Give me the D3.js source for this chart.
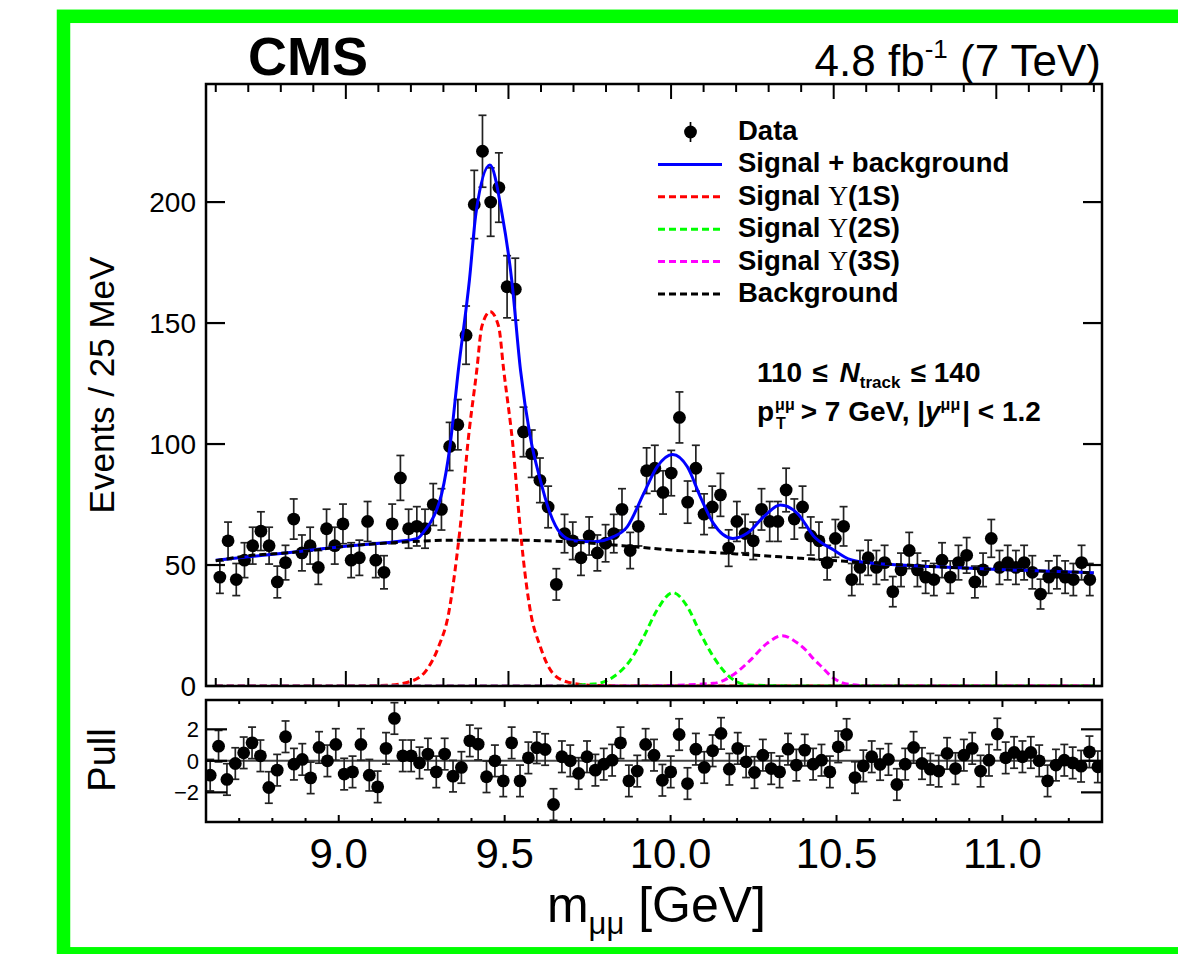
<!DOCTYPE html>
<html><head><meta charset="utf-8">
<script src="https://cdn.jsdelivr.net/npm/d3@7"></script>
<style>
body{margin:0;background:#fff}
svg{display:block}
text{font-family:"Liberation Sans",Arial,Helvetica,sans-serif;fill:#000}
</style>
</head><body>
<svg id="c" width="1178" height="954"></svg>
<script>
// ---- binning (107 bins over the fitted range) ----
const binLo = 8.6, binHi = 11.3, nBins = 107;

// ---- data: events per bin ----
const counts = [45,60,44,52,58,64,58,43,51,69, 55,58,49,65,58,67,52,53,68,52,
  47,67,86,65,66,65,75,73,99,108, 145,199,221,200,206,165,164,105,96,85,
  74,42,63,60,53,62,55,59,63,73, 56,66,89,90,80,88,111,76,90,71,
  74,79,57,68,63,60,73,68,68,81, 69,74,62,60,51,61,66,44,49,53,
  49,51,39,48,56,48,45,44,52,45, 51,54,43,48,61,49,51,49,51,47,
  38,45,47,45,44,51,44];

// ---- pulls per bin ----
const pulls = [-0.91,0.93,-1.18,-0.17,0.51,1.14,0.32,-1.69,-0.59,1.53,
  -0.21,0.09,-1.08,0.85,0.00,1.04,-0.84,-0.70,1.04,-0.91,
  -1.65,0.79,2.69,0.32,0.32,-0.13,0.43,-0.70,0.43,-0.97,
  -0.42,1.27,1.06,-1.01,0.00,-1.27,1.14,-1.27,0.19,0.83,
  0.72,-2.77,0.26,0.00,-0.80,0.26,-0.59,-0.21,0.04,1.14,
  -1.27,-0.65,1.04,0.36,
  -1.23,-0.70,1.67,-1.44,0.74,-0.42,0.64,1.74,-0.53,0.79,
  -0.06,-0.74,0.36,-0.49,-0.70,0.74,-0.27,0.68,-0.21,0.04,
  -0.70,0.89,1.67,-1.06,-0.32,0.26,-0.23,0.09,-1.50,-0.21,
  0.85,-0.17,-0.53,-0.65,0.47,-0.49,0.36,0.79,-0.65,0.04,
  1.70,0.19,0.53,0.26,0.53,0.00,-1.27,-0.27,0.04,-0.13,
  -0.34,0.57,-0.38];

// ---- fit curves ----
const bgMass = [8.6,8.7,8.86,9.01,9.17,9.3,9.5,9.68,9.85,10.0,10.2,10.4,10.6,10.8,11.0,11.3];
const bgVal  = [51.8,53.8,55.5,57.9,59.4,60.2,60.3,59.6,58.0,56.2,54.6,52.8,51.0,49.4,48.2,46.8];

const totMass = [8.6,8.8,9.0,9.15,9.22,9.244,9.27,9.295,9.32,9.346,9.38,9.40,9.443,9.48,9.51,9.537,
  9.567,9.598,9.628,9.66,9.70,9.762,9.823,9.865,9.916,9.957,10.005,10.05,10.09,10.13,10.19,
  10.234,10.285,10.336,10.388,10.44,10.50,10.55,10.60,10.8,11.0,11.3];
const totVal = [52,54.8,57.8,59.6,61,64.5,70,79.6,98.9,130.6,167.8,195.3,215.3,195.3,167.8,130.6,
  103,85.1,71.4,63.1,60.0,59.6,61.7,65.8,79.6,90.6,95.7,90.6,78.2,67.2,61.0,
  63.1,70.0,74.8,71.4,61.7,56.2,52.3,51.0,49.4,48.2,46.8];

const s1Mass = [8.6,9.0,9.126,9.197,9.248,9.285,9.316,9.341,9.357,9.372,9.403,9.418,9.444,9.47,9.485,
  9.516,9.531,9.545,9.566,9.598,9.635,9.685,9.755,9.85,11.3];
const s1Val  = [0,0,0.3,1.8,6.6,16.2,30.0,53.4,72.7,96.1,131,148.5,154.7,148.5,131,
  96.1,72.7,53.4,32,16.2,5.5,1.5,0.3,0,0];

const s2Mass = [8.6,9.6,9.762,9.823,9.875,9.916,9.957,10.005,10.05,10.09,10.13,10.18,10.24,10.4,11.3];
const s2Val  = [0,0,0.8,3.8,10.7,20.4,31.4,38.6,32.8,21.8,12.1,3.8,0.4,0,0];

const s3Mass = [8.6,9.9,10.13,10.19,10.244,10.295,10.342,10.39,10.414,10.44,10.455,10.50,10.55,10.62,11.3];
const s3Val  = [0,0,1.1,4.5,10.7,17.6,20.8,17.6,14.9,10.9,9.0,3.2,0.6,0,0];

const mainYTicks = [0,50,100,150,200];
const xMajorTicks = [9.0,9.5,10.0,10.5,11.0];
const xTickLabels = ["9.0","9.5","10.0","10.5","11.0"];
const pullTicks = [-2,0,2];
const pullTickLabels = ["\u22122","0","2"];

const legendItems = [
  {label:"Data", type:"data"},
  {label:"Signal + background", type:"line", color:"#0000ff", dash:null},
  {label:"Signal ", ups:"\u03A5", tail:"(1S)", type:"line", color:"#ff0000", dash:"7,4"},
  {label:"Signal ", ups:"\u03A5", tail:"(2S)", type:"line", color:"#00ff00", dash:"7,4"},
  {label:"Signal ", ups:"\u03A5", tail:"(3S)", type:"line", color:"#ff00ff", dash:"7,4"},
  {label:"Background", type:"line", color:"#000000", dash:"7,4"}
];

// ---- layout ----
const svg = d3.select("#c");
const M = {l:206, r:1102, t:84, b:686};
const P = {l:206, r:1102, t:700, b:822};

const x = d3.scaleLinear().domain([8.57, 11.325]).range([M.l, M.r]);
const y = d3.scaleLinear().domain([0, 248.8]).range([M.b, M.t]);
const xp = d3.scaleLinear().domain([8.6, 11.3]).range([P.l, P.r]);
const yp = d3.scaleLinear().domain([-3.88, 3.86]).range([P.b, P.t]);

const binW = (binHi - binLo) / nBins;
const centers = d3.range(nBins).map(i => binLo + (i + 0.5) * binW);
const data = centers.map((m, i) => ({m, n: counts[i], e: Math.sqrt(counts[i]), p: pulls[i]}));

// green outer frame
svg.append("rect").attr("x",63.5).attr("y",16.3).attr("width",1200).attr("height",937.5)
  .attr("fill","none").attr("stroke","#00ff00").attr("stroke-width",13.5);

// clip paths
const defs = svg.append("defs");
defs.append("clipPath").attr("id","clipM").append("rect")
  .attr("x",M.l).attr("y",M.t).attr("width",M.r-M.l).attr("height",M.b-M.t);
defs.append("clipPath").attr("id","clipP").append("rect")
  .attr("x",P.l).attr("y",P.t).attr("width",P.r-P.l).attr("height",P.b-P.t);

// ---------------- main panel ----------------
const gM = svg.append("g");
const gD = gM.append("g").attr("clip-path","url(#clipM)");
const cap = 4;
gD.selectAll("line.eb").data(data).join("line").attr("class","eb")
  .attr("x1",d=>x(d.m)).attr("x2",d=>x(d.m))
  .attr("y1",d=>y(d.n+d.e)).attr("y2",d=>y(d.n-d.e))
  .attr("stroke","#222").attr("stroke-width",1.7);
gD.selectAll("line.ct").data(data).join("line").attr("class","ct")
  .attr("x1",d=>x(d.m)-cap).attr("x2",d=>x(d.m)+cap)
  .attr("y1",d=>y(d.n+d.e)).attr("y2",d=>y(d.n+d.e))
  .attr("stroke","#222").attr("stroke-width",1.7);
gD.selectAll("line.cb").data(data).join("line").attr("class","cb")
  .attr("x1",d=>x(d.m)-cap).attr("x2",d=>x(d.m)+cap)
  .attr("y1",d=>y(d.n-d.e)).attr("y2",d=>y(d.n-d.e))
  .attr("stroke","#222").attr("stroke-width",1.7);
gD.selectAll("circle").data(data).join("circle")
  .attr("cx",d=>x(d.m)).attr("cy",d=>y(d.n)).attr("r",6.4).attr("fill","#000");

// curves
const gC = gM.append("g").attr("clip-path","url(#clipM)");
const lineGen = d3.line().x(d=>x(d[0])).y(d=>y(d[1])).curve(d3.curveMonotoneX);
function curve(ms, vs, color, dash, w){
  const pts = ms.map((m,i)=>[m, vs[i]]);
  const p = gC.append("path").attr("d", lineGen(pts)).attr("fill","none")
    .attr("stroke", color).attr("stroke-width", w);
  if (dash) p.attr("stroke-dasharray", dash);
}
curve(totMass, totVal, "#0000ff", null, 3);
curve(s1Mass, s1Val, "#ff0000", "7,4", 3);
curve(s2Mass, s2Val, "#00ff00", "7,4", 3);
curve(s3Mass, s3Val, "#ff00ff", "7,4", 3);
curve(bgMass, bgVal, "#000000", "7,4", 3);

// frame
gM.append("rect").attr("x",M.l).attr("y",M.t).attr("width",M.r-M.l).attr("height",M.b-M.t)
  .attr("fill","none").attr("stroke","#000").attr("stroke-width",2.5);

// x ticks (main)
d3.range(86, 114).map(k => k/10).forEach(t => {
  const major = Math.abs(t*2 - Math.round(t*2)) < 1e-6;
  const L = major ? 15 : 8;
  gM.append("line").attr("x1",x(t)).attr("x2",x(t)).attr("y1",M.b).attr("y2",M.b-L)
    .attr("stroke","#000").attr("stroke-width",2);
  gM.append("line").attr("x1",x(t)).attr("x2",x(t)).attr("y1",M.t).attr("y2",M.t+L)
    .attr("stroke","#000").attr("stroke-width",2);
});
// y ticks (main)
mainYTicks.forEach(t => {
  gM.append("line").attr("x1",M.l).attr("x2",M.l+19).attr("y1",y(t)).attr("y2",y(t))
    .attr("stroke","#000").attr("stroke-width",2.2);
  gM.append("line").attr("x1",M.r).attr("x2",M.r-19).attr("y1",y(t)).attr("y2",y(t))
    .attr("stroke","#000").attr("stroke-width",2.2);
  gM.append("text").attr("x",196).attr("y",y(t)).attr("dy","0.36em")
    .attr("text-anchor","end").attr("font-size",28).text(t);
});

// y title
svg.append("text").attr("transform","translate(114,385) rotate(-90)")
  .attr("text-anchor","middle").attr("font-size",35).text("Events / 25 MeV");

// ---------------- pull panel ----------------
const gP = svg.append("g");
const gPD = gP.append("g").attr("clip-path","url(#clipP)");
gPD.append("line").attr("x1",P.l).attr("x2",P.r).attr("y1",yp(0)).attr("y2",yp(0))
  .attr("stroke","#444").attr("stroke-width",2);
gPD.selectAll("line.eb").data(data).join("line").attr("class","eb")
  .attr("x1",d=>xp(d.m)).attr("x2",d=>xp(d.m))
  .attr("y1",d=>yp(d.p+1)).attr("y2",d=>yp(d.p-1))
  .attr("stroke","#222").attr("stroke-width",1.7);
gPD.selectAll("line.ct").data(data).join("line").attr("class","ct")
  .attr("x1",d=>xp(d.m)-cap).attr("x2",d=>xp(d.m)+cap)
  .attr("y1",d=>yp(d.p+1)).attr("y2",d=>yp(d.p+1))
  .attr("stroke","#222").attr("stroke-width",1.7);
gPD.selectAll("line.cb").data(data).join("line").attr("class","cb")
  .attr("x1",d=>xp(d.m)-cap).attr("x2",d=>xp(d.m)+cap)
  .attr("y1",d=>yp(d.p-1)).attr("y2",d=>yp(d.p-1))
  .attr("stroke","#222").attr("stroke-width",1.7);
gPD.selectAll("circle").data(data).join("circle")
  .attr("cx",d=>xp(d.m)).attr("cy",d=>yp(d.p)).attr("r",6.4).attr("fill","#000");

gP.append("rect").attr("x",P.l).attr("y",P.t).attr("width",P.r-P.l).attr("height",P.b-P.t)
  .attr("fill","none").attr("stroke","#000").attr("stroke-width",2.5);

d3.range(87, 114).map(k=>k/10).forEach(t => {
  const major = Math.abs(t*2 - Math.round(t*2)) < 1e-6;
  const L = major ? 7 : 4;
  gP.append("line").attr("x1",xp(t)).attr("x2",xp(t)).attr("y1",P.b).attr("y2",P.b-L)
    .attr("stroke","#000").attr("stroke-width",2);
  gP.append("line").attr("x1",xp(t)).attr("x2",xp(t)).attr("y1",P.t).attr("y2",P.t+L)
    .attr("stroke","#000").attr("stroke-width",2);
});
pullTicks.forEach((t,i) => {
  gP.append("line").attr("x1",P.l).attr("x2",P.l+21).attr("y1",yp(t)).attr("y2",yp(t))
    .attr("stroke","#000").attr("stroke-width",2.2);
  gP.append("line").attr("x1",P.r).attr("x2",P.r-21).attr("y1",yp(t)).attr("y2",yp(t))
    .attr("stroke","#000").attr("stroke-width",2.2);
  gP.append("text").attr("x",199).attr("y",yp(t)).attr("dy","0.36em")
    .attr("text-anchor","end").attr("font-size",22).text(pullTickLabels[i]);
});
svg.append("text").attr("transform","translate(115,760) rotate(-90)")
  .attr("text-anchor","middle").attr("font-size",38).text("Pull");

// x tick labels
xMajorTicks.forEach((t,i) => {
  svg.append("text").attr("x",xp(t)).attr("y",868).attr("text-anchor","middle")
    .attr("font-size",42).text(xTickLabels[i]);
});
// x title
const xt = svg.append("text").attr("x",766).attr("y",922).attr("text-anchor","end").attr("font-size",50);
xt.append("tspan").text("m");
xt.append("tspan").attr("font-size",31).attr("dy",12).text("\u03BC\u03BC");
xt.append("tspan").attr("dy",-12).text(" [GeV]");

// CMS and lumi
svg.append("text").attr("x",248).attr("y",75).attr("font-size",54).attr("font-weight","bold").text("CMS");
const lt = svg.append("text").attr("x",1101).attr("y",76).attr("text-anchor","end").attr("font-size",44);
lt.append("tspan").text("4.8 fb");
lt.append("tspan").attr("font-size",26).attr("dy",-18).text("-1");
lt.append("tspan").attr("dy",18).text(" (7 TeV)");

// legend
const lgX0 = 658, lgX1 = 722, lgTx = 738;
legendItems.forEach((it, i) => {
  const ry = 132 + 32.4 * i;
  if (it.type === "data") {
    svg.append("line").attr("x1",690.5).attr("x2",690.5).attr("y1",ry-10).attr("y2",ry+10)
      .attr("stroke","#000").attr("stroke-width",1.7);
    svg.append("circle").attr("cx",690.5).attr("cy",ry).attr("r",6.4).attr("fill","#000");
  } else {
    const l = svg.append("line").attr("x1",lgX0).attr("x2",lgX1).attr("y1",ry).attr("y2",ry)
      .attr("stroke",it.color).attr("stroke-width",3);
    if (it.dash) l.attr("stroke-dasharray",it.dash);
  }
  const t = svg.append("text").attr("x",lgTx).attr("y",ry+8).attr("font-size",27.5).attr("font-weight","bold");
  t.append("tspan").text(it.label);
  if (it.ups) {
    t.append("tspan").attr("font-family","'Liberation Serif','DejaVu Serif',serif").attr("font-weight","normal").text(it.ups);
    t.append("tspan").text(it.tail);
  }
});

// annotation line 1
const a1 = svg.append("text").attr("x",757).attr("y",382).attr("font-size",28).attr("font-weight","bold");
a1.append("tspan").text("110");
a1.append("tspan").attr("dx",10).text("\u2264");
a1.append("tspan").attr("dx",12).attr("font-style","italic").text("N");
a1.append("tspan").attr("font-size",17).attr("dy",6).text("track");
a1.append("tspan").attr("dy",-6).attr("dx",10).text("\u2264");
a1.append("tspan").attr("dx",8).text("140");

// annotation line 2
const b0 = 757, by = 421;
const pT = svg.append("text").attr("x",b0).attr("y",by).attr("font-size",28).attr("font-weight","bold").text("p");
const pw = pT.node().getComputedTextLength();
const sup1 = svg.append("text").attr("x",b0+pw+1).attr("y",by-11).attr("font-size",16).attr("font-weight","bold").text("\u03BC\u03BC");
svg.append("text").attr("x",b0+pw+2).attr("y",by+8).attr("font-size",16).attr("font-weight","bold").text("T");
const sw = sup1.node().getComputedTextLength();
const rest = svg.append("text").attr("x",b0+pw+1+sw+6).attr("y",by).attr("font-size",28).attr("font-weight","bold");
rest.append("tspan").text("> 7 GeV, |");
rest.append("tspan").attr("font-style","italic").text("y");
rest.append("tspan").attr("font-size",16).attr("dy",-11).text("\u03BC\u03BC");
rest.append("tspan").attr("dy",11).attr("dx",2).text("| < 1.2");
</script>
</body></html>
